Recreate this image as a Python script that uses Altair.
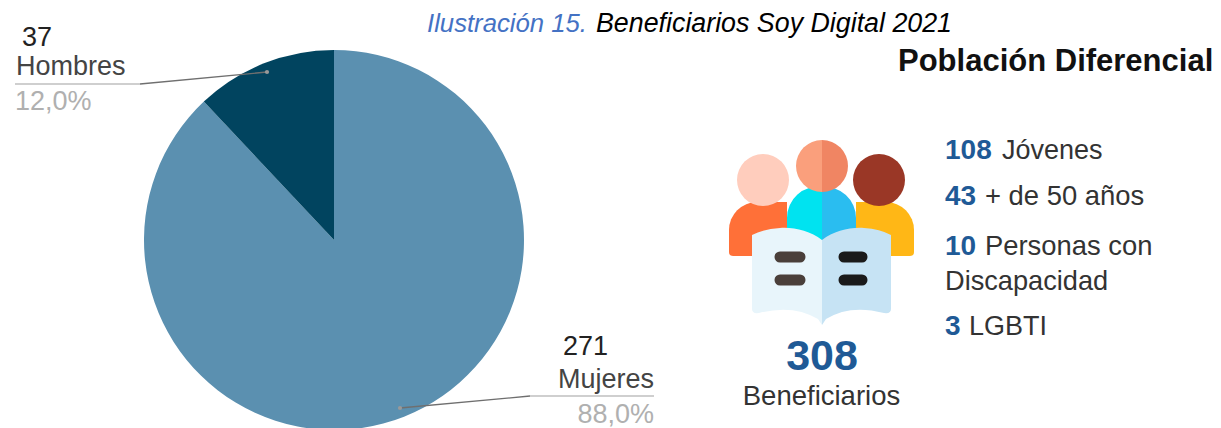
import urllib.parse
import altair as alt
import pandas as pd

# ---- data ----
categories = ["Mujeres", "Hombres"]
counts = [271, 37]
slice_colors = ["#5b90b0", "#01445f"]

FONT = "Liberation Sans"
W, H = 1205, 420
xs = alt.Scale(domain=[8, 8 + W], range=[0, W])
ys = alt.Scale(domain=[8, 8 + H], range=[0, H])

# text rows: string, x, baseline y, size, weight, style, colour, align
rows = [
    ("Ilustración 15.", 427, 32, 25.7, "normal", "italic", "#4472c4", "left"),
    ("Beneficiarios Soy Digital 2021", 596, 32, 26.8, "normal", "italic", "#000000", "left"),
    ("37", 22, 46, 27, "normal", "normal", "#222222", "left"),
    ("Hombres", 16, 75, 27, "normal", "normal", "#444444", "left"),
    ("12,0%", 15, 110, 27, "normal", "normal", "#b0b0b0", "left"),
    ("271", 563, 355, 27, "normal", "normal", "#222222", "left"),
    ("Mujeres", 654, 388, 27, "normal", "normal", "#444444", "right"),
    ("88,0%", 654, 423, 27, "normal", "normal", "#b0b0b0", "right"),
    ("Población Diferencial", 898, 71, 31, "bold", "normal", "#111111", "left"),
    ("108", 945, 159, 28, "bold", "normal", "#1f5a96", "left"),
    ("Jóvenes", 1002, 159, 27, "normal", "normal", "#333333", "left"),
    ("43", 945, 205, 28, "bold", "normal", "#1f5a96", "left"),
    ("+ de 50 años", 985, 205, 27.4, "normal", "normal", "#333333", "left"),
    ("10", 945, 255, 28, "bold", "normal", "#1f5a96", "left"),
    ("Personas con", 985, 255, 27.4, "normal", "normal", "#333333", "left"),
    ("Discapacidad", 945, 290, 27.2, "normal", "normal", "#333333", "left"),
    ("3", 945, 335, 28, "bold", "normal", "#1f5a96", "left"),
    ("LGBTI", 969, 335, 27, "normal", "normal", "#333333", "left"),
    ("308", 822, 370, 43, "bold", "normal", "#1f5a96", "center"),
    ("Beneficiarios", 821.5, 405, 27.5, "normal", "normal", "#333333", "center"),
]

icon_svg = """<svg xmlns='http://www.w3.org/2000/svg' width='240' height='220' viewBox='700 120 240 220'>
<path d='M729 252v-22a28 28 0 0 1 28-28h30v54h-54a4 4 0 0 1-4-4z' fill='#ff7038'/>
<path d='M914 252v-22a28 28 0 0 0-28-28h-30v54h54a4 4 0 0 0 4-4z' fill='#ffb716'/>
<path d='M787 240v-22a31 31 0 0 1 35-31v60h-35z' fill='#00e3f0'/>
<path d='M856 240v-22a31 31 0 0 0-34-31v60h34z' fill='#2abdf0'/>
<circle cx='763' cy='180' r='26' fill='#ffcdbd'/>
<circle cx='879' cy='180' r='26' fill='#9a3726'/>
<path d='M822 140a26 26 0 0 0 0 52z' fill='#fa9f7c'/>
<path d='M822 140a26 26 0 0 1 0 52z' fill='#f08563'/>
<path d='M822 240c-12-9-28-13-42-12q-16 1-28 7v74q0 5 7 4q34-9 59 6l4 6z' fill='#e8f5fb'/>
<path d='M822 240c12-9 28-13 42-12q16 1 27 7v74q0 5-7 4q-34-9-58 6l-4 6z' fill='#c6e3f4'/>
<g stroke-width='11' stroke-linecap='round'>
<path d='M780 257h20M780 280h20' stroke='#4a3f3a'/>
<path d='M844 257h18M844 280h18' stroke='#1a1a1a'/>
</g></svg>"""
icon_url = "data:image/svg+xml," + urllib.parse.quote(icon_svg)

leaders = [
    ("h", 267, 72), ("h", 140, 84),
    ("m", 400, 408), ("m", 530, 396),
]
underlines = [
    ("h", 15, 84), ("h", 140, 84),
    ("m", 530, 396), ("m", 654, 396),
]
dots = [(267, 72), (400, 408)]

# ---- tables ----
pie_df = pd.DataFrame({"cat": categories, "n": counts, "ord": [0, 1]})
text_df = pd.DataFrame(rows, columns=["t", "x", "y", "s", "w", "st", "c", "a"])
lead_df = pd.DataFrame(leaders, columns=["g", "x", "y"])
under_df = pd.DataFrame(underlines, columns=["g", "x", "y"])
dot_df = pd.DataFrame(dots, columns=["x", "y"])

X = lambda: alt.X("x:Q", scale=xs, axis=None)
Y = lambda: alt.Y("y:Q", scale=ys, axis=None)

pie = alt.Chart(pie_df).mark_arc(outerRadius=190, strokeWidth=0).encode(
    theta=alt.Theta("n:Q", stack=True),
    order=alt.Order("ord:O"),
    color=alt.Color("cat:N", scale=alt.Scale(domain=categories, range=slice_colors), legend=None),
    x=alt.value(326), y=alt.value(232),
)

under = alt.Chart(under_df).mark_line(color="#cfcfcf", strokeWidth=2).encode(x=X(), y=Y(), detail="g:N")
lead = alt.Chart(lead_df).mark_line(color="#6f6f6f", strokeWidth=1.3).encode(x=X(), y=Y(), detail="g:N")
dot = alt.Chart(dot_df).mark_circle(color="#999999", size=18, opacity=1).encode(x=X(), y=Y())

icon = alt.Chart(pd.DataFrame({"x": [700], "y": [120], "u": [icon_url]})).mark_image(
    width=240, height=220, align="left", baseline="top"
).encode(x=X(), y=Y(), url="u:N")

txt_layers = []
for a in ["left", "center", "right"]:
    sub = text_df[text_df.a == a]
    for (w, st), g in sub.groupby(["w", "st"]):
        txt_layers.append(
            alt.Chart(g).mark_text(align=a, baseline="alphabetic", font=FONT, fontWeight=w, fontStyle=st).encode(
                x=X(), y=Y(),
                text="t:N",
                size=alt.Size("s:Q", scale=None),
                color=alt.Color("c:N", scale=None),
            )
        )

chart = alt.layer(pie, icon, under, lead, dot, *txt_layers).resolve_scale(
    color="independent", size="independent"
).properties(
    width=W, height=H, padding=0, autosize=alt.AutoSizeParams(type="none"), background="#ffffff"
).configure_view(stroke=None)

chart.save("out.html", embed_options={"renderer": "svg", "actions": False})
